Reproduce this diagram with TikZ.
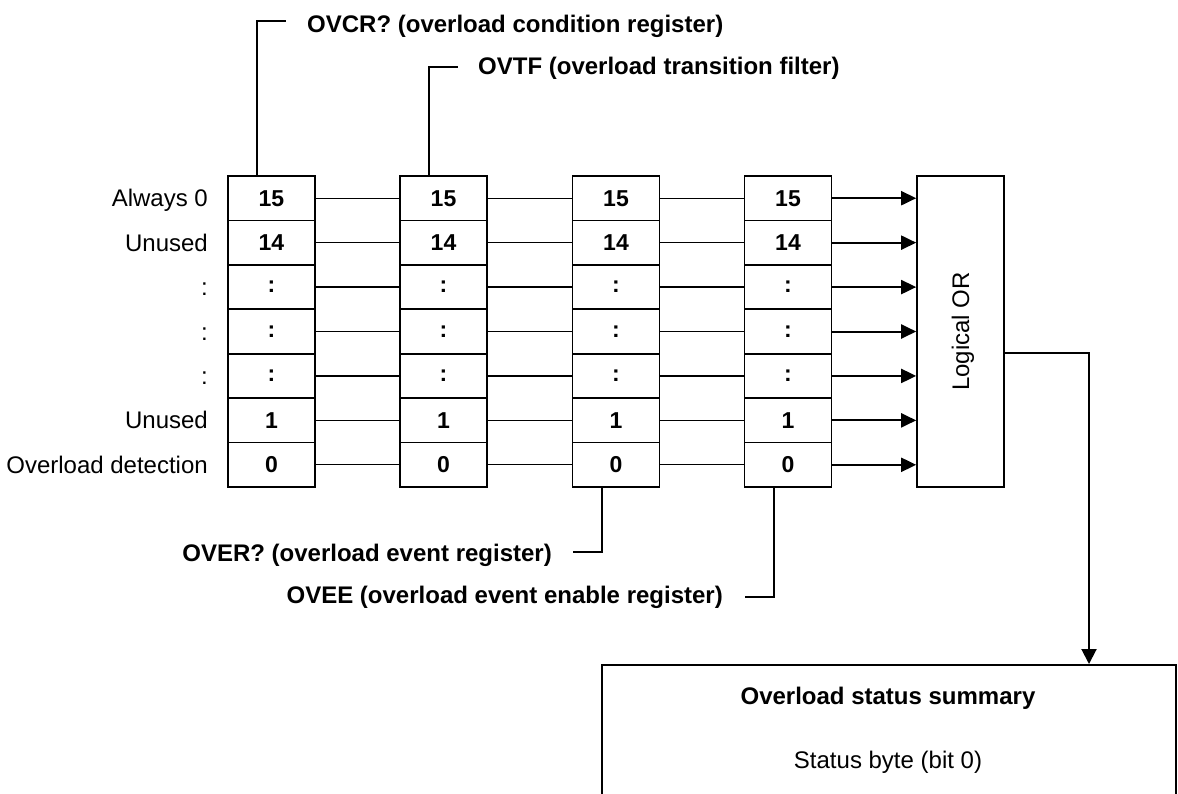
\documentclass[tikz,border=0pt]{standalone}
\usepackage{fontspec}
\setmainfont{Liberation Sans}
\usetikzlibrary{arrows.meta}
\begin{document}
\begin{tikzpicture}[x=1pt,y=-1pt,
  cell/.style={draw,line width=1.6pt,minimum width=87pt,minimum height=44.43pt,inner sep=0pt,font=\fontsize{23}{26}\selectfont\bfseries},
  lab/.style={inner sep=0pt,font=\fontsize{24}{28}\selectfont,text height=17.2pt,text depth=0pt},
  blab/.style={inner sep=0pt,font=\fontsize{24}{28}\selectfont\bfseries,text height=17.2pt,text depth=0pt},
  link/.style={line width=1.2pt},
  lead/.style={line width=1.5pt},
  inarrow/.style={line width=2pt,-{Triangle[length=15pt,width=14pt]}},
  outarrow/.style={line width=2pt,-{Triangle[length=15pt,width=15pt]}},
  boxstyle/.style={draw,line width=1.6pt,inner sep=0pt},
]
\useasboundingbox (0,0) rectangle (1178,793);
\clip (0,0) rectangle (1178,793);

% register cells
\foreach \c/\x in {1/271.5,2/443.5,3/616,4/788}{
  \foreach \t [count=\i] in {15,14,:,:,:,1,0}{
    \node[cell] (c\c-\i) at (\x,{176+44.43*(\i-0.5)}) {\t};
  }
}

% left labels
\foreach \t [count=\i] in {Always 0,Unused,:,:,:,Unused,Overload detection}{
  \node[lab,anchor=east] (l\i) at (208,{176+44.43*(\i-0.5)}) {\t};
}

% links between registers
\foreach \i in {1,...,7}{
  \draw[link] (c1-\i.east) -- (c2-\i.west);
  \draw[link] (c2-\i.east) -- (c3-\i.west);
  \draw[link] (c3-\i.east) -- (c4-\i.west);
}

% logical OR
\node[boxstyle,minimum width=87pt,minimum height=311pt] (or) at (960.5,331.5) {};
\node[lab,rotate=90] (ortext) at (or.center) {Logical OR};
\foreach \i in {1,...,7}{
  \draw[inarrow] (c4-\i.east) -- (c4-\i.east -| or.west);
}

% summary box
\node[boxstyle,minimum width=574pt,minimum height=200pt,anchor=north west] (sum) at (601,664) {};
\node[blab] (sumtitle) at (888,695.5) {Overload status summary};
\node[lab] (sumtext) at (888,759.5) {Status byte (bit 0)};

\coordinate (bend) at (1089,353);
\draw[outarrow] (or.east |- bend) -- (bend) -- (bend |- sum.north);

% register labels with leaders
\node[blab,anchor=west] (ovcr) at (307,23.5) {OVCR? (overload condition register)};
\node[blab,anchor=west] (ovtf) at (478,65.5) {OVTF (overload transition filter)};
\node[blab,anchor=east] (over) at (552,553) {OVER? (overload event register)};
\node[blab,anchor=east] (ovee) at (723,595) {OVEE (overload event enable register)};

\coordinate (k1) at (257,21);
\coordinate (e1) at (286,21);
\draw[lead] (k1 |- c1-1.north) -- (k1) -- (e1);
\coordinate (k2) at (429,67);
\coordinate (e2) at (458,67);
\draw[lead] (k2 |- c2-1.north) -- (k2) -- (e2);
\coordinate (k3) at (602,552);
\coordinate (e3) at (573,552);
\draw[lead] (k3 |- c3-7.south) -- (k3) -- (e3);
\coordinate (k4) at (774,597);
\coordinate (e4) at (745,597);
\draw[lead] (k4 |- c4-7.south) -- (k4) -- (e4);
\end{tikzpicture}
\end{document}
